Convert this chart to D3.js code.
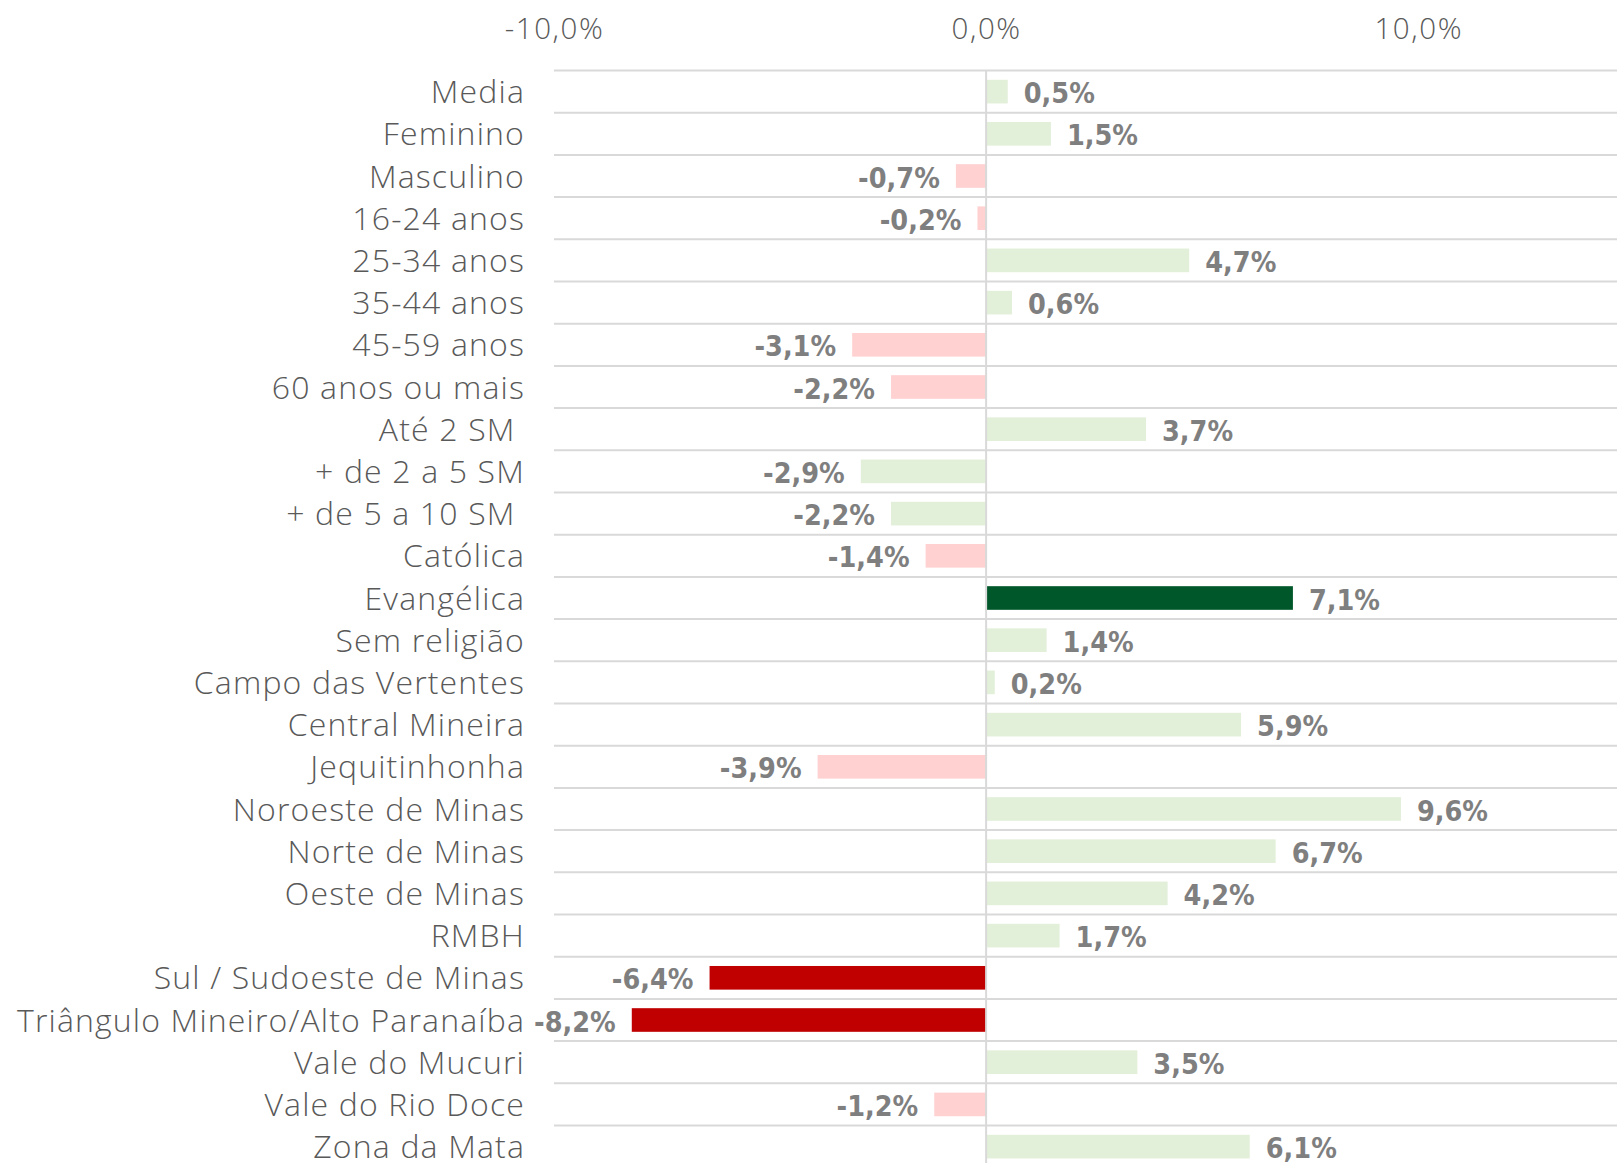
<!DOCTYPE html>
<html><head><meta charset="utf-8">
<script src="https://cdn.jsdelivr.net/npm/d3@7"></script>
<style>html,body{margin:0;padding:0;background:#fff;overflow:hidden}</style>
</head><body>
<svg id="chart" width="1617" height="1163"></svg>
<script>
const categories = ["Media","Feminino","Masculino","16-24 anos","25-34 anos","35-44 anos","45-59 anos","60 anos ou mais","Até 2 SM ","+ de 2 a 5 SM","+ de 5 a 10 SM ","Católica","Evangélica","Sem religião","Campo das Vertentes","Central Mineira","Jequitinhonha","Noroeste de Minas","Norte de Minas","Oeste de Minas","RMBH","Sul / Sudoeste de Minas","Triângulo Mineiro/Alto Paranaíba","Vale do Mucuri","Vale do Rio Doce","Zona da Mata"];
const values = [0.5,1.5,-0.7,-0.2,4.7,0.6,-3.1,-2.2,3.7,-2.9,-2.2,-1.4,7.1,1.4,0.2,5.9,-3.9,9.6,6.7,4.2,1.7,-6.4,-8.2,3.5,-1.2,6.1];
const barColors = ["#e2efd9","#e2efd9","#ffd1d1","#ffd1d1","#e2efd9","#e2efd9","#ffd1d1","#ffd1d1","#e2efd9","#e2efd9","#e2efd9","#ffd1d1","#00572a","#e2efd9","#e2efd9","#e2efd9","#ffd1d1","#e2efd9","#e2efd9","#e2efd9","#e2efd9","#c00000","#c00000","#e2efd9","#ffd1d1","#e2efd9"];
const tickValues = [-10, 0, 10];

const data = categories.map((c,i)=>({cat:c, v:values[i], color:barColors[i]}));
const svg = d3.select("#chart");
const x = d3.scaleLinear().domain([-10, 14.6]).range([554, 1617]);
const y = d3.scaleBand().domain(categories).range([70.5, 70.5 + 26*42.2]).paddingInner(0.44).paddingOuter(0.22);
const loc = d3.formatLocale({decimal:",", thousands:".", grouping:[3], currency:["R$",""], minus:"-"});
const fmt = loc.format(".1f");
const catFont = "'Open Sans', sans-serif";
const valFont = "'DejaVu Sans Condensed', 'DejaVu Sans', sans-serif";

const gap = (y.step() - y.bandwidth())/2;
// gridlines
svg.append("g").selectAll("line").data(categories).join("line")
  .attr("x1", x(-10)).attr("x2", 1617)
  .attr("y1", d=>y(d)-gap).attr("y2", d=>y(d)-gap)
  .attr("stroke","#d9d9d9").attr("stroke-width",2);

// bars
svg.append("g").selectAll("rect").data(data).join("rect")
  .attr("x", d=>x(Math.min(0,d.v))).attr("width", d=>Math.abs(x(d.v)-x(0)))
  .attr("y", d=>y(d.cat)).attr("height", y.bandwidth())
  .attr("fill", d=>d.color);

// zero line
svg.append("line").attr("x1",x(0)).attr("x2",x(0)).attr("y1",70.5).attr("y2",1163)
  .attr("stroke","#d9d9d9").attr("stroke-width",2);

// top axis
const ax = svg.append("g").attr("transform","translate(0,42)")
  .call(d3.axisTop(x).tickValues(tickValues).tickSize(0).tickFormat(d=>fmt(d)+"%"));
ax.select(".domain").remove();
ax.selectAll("text").attr("fill","#595959").style("font-family",catFont).style("font-weight","300")
  .style("font-size","29.5px").style("letter-spacing","1.6px").attr("dy","0");

// category labels
svg.append("g").selectAll("text").data(data).join("text")
  .attr("x", 525).attr("y", d=>y(d.cat)+y.bandwidth()/2+11.5)
  .attr("text-anchor","end").attr("fill","#595959")
  .style("font-family",catFont).style("font-weight","300").style("font-size","32px")
  .style("letter-spacing","1.15px").style("white-space","pre")
  .attr("xml:space","preserve")
  .text(d=>d.cat);

// value labels
svg.append("g").selectAll("text").data(data).join("text")
  .attr("x", d=> d.v>=0 ? x(d.v)+16 : x(d.v)-16)
  .attr("y", d=>y(d.cat)+y.bandwidth()/2+11.5)
  .attr("text-anchor", d=> d.v>=0 ? "start":"end")
  .attr("fill","#7f7f7f").style("font-weight","bold").style("font-stretch","condensed")
  .style("font-family",valFont).style("font-size","28.5px")
  .text(d=>fmt(d.v)+"%");
</script>
</body></html>
